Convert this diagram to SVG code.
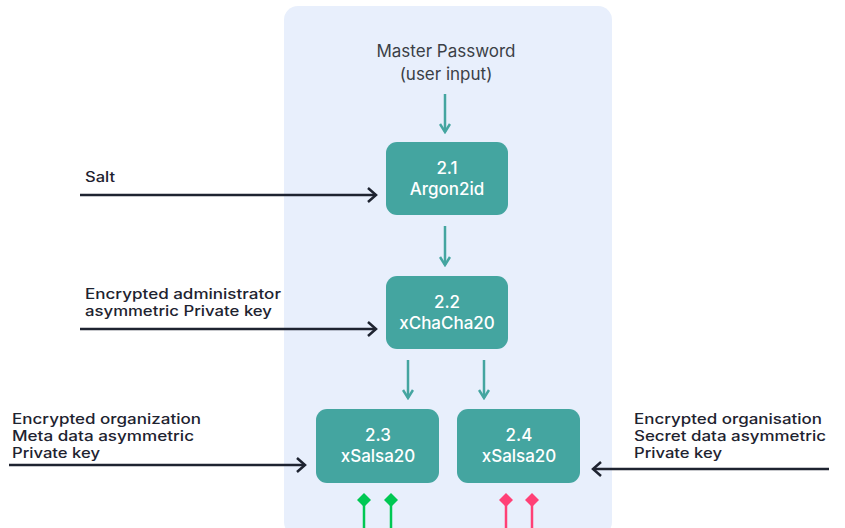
<svg xmlns="http://www.w3.org/2000/svg" width="845" height="528" viewBox="0 0 845 528">
<defs>
<style>
.lbl{font-family:Inter,"Liberation Sans",sans-serif;font-size:14px;fill:#1e2330;font-weight:500}
.ttl{font-family:Inter,"Liberation Sans",sans-serif;font-size:17px;fill:#3b3f47;text-anchor:middle}
.box{fill:#44a5a0}
.bt{font-family:Inter,"Liberation Sans",sans-serif;font-size:17px;fill:#ffffff;text-anchor:middle;font-weight:500}
.tl{stroke:#44a5a0;stroke-width:2.5;fill:none}
.bl{stroke:#1e2330;stroke-width:2.5;fill:none}
.gr{stroke:#00c853;stroke-width:2.5}
.rd{stroke:#ff4076;stroke-width:2.5}
</style>
<marker id="ht" viewBox="0 0 12 12" refX="10" refY="6" markerWidth="12" markerHeight="12" markerUnits="userSpaceOnUse" orient="auto">
<path d="M2,1 L10,6 L2,11" fill="none" stroke="#44a5a0" stroke-width="2.5"/>
</marker>
<marker id="hb" viewBox="0 0 16 16" refX="14" refY="8" markerWidth="16" markerHeight="16" markerUnits="userSpaceOnUse" orient="auto">
<path d="M6,1 L14,8 L6,15" fill="none" stroke="#1e2330" stroke-width="2.5"/>
</marker>
</defs>
<rect x="284" y="6" width="328" height="530" rx="14" fill="#e8effc"/>
<g id="title"><text class="ttl" x="446" y="57">Master Password</text><text class="ttl" x="446" y="80">(user input)</text></g>
<g id="n21"><rect class="box" x="386" y="142" width="122" height="73" rx="11"/><text class="bt" x="447" y="174">2.1</text><text class="bt" x="447" y="195">Argon2id</text></g>
<g id="n22"><rect class="box" x="386" y="276" width="122" height="73" rx="11"/><text class="bt" x="447" y="308">2.2</text><text class="bt" x="447" y="329">xChaCha20</text></g>
<g id="n23"><rect class="box" x="316" y="409" width="123" height="74" rx="11"/><text class="bt" x="378" y="441">2.3</text><text class="bt" x="378" y="462">xSalsa20</text></g>
<g id="n24"><rect class="box" x="457" y="409" width="123" height="74" rx="11"/><text class="bt" x="519" y="441">2.4</text><text class="bt" x="519" y="462">xSalsa20</text></g>
<g id="salt"><text class="lbl" x="85" y="182" textLength="30" lengthAdjust="spacingAndGlyphs">Salt</text></g>
<g id="admin"><text class="lbl" x="85" y="299" textLength="196" lengthAdjust="spacingAndGlyphs">Encrypted administrator</text><text class="lbl" x="85" y="316" textLength="187" lengthAdjust="spacingAndGlyphs">asymmetric Private key</text></g>
<g id="meta"><text class="lbl" x="12" y="424" textLength="189" lengthAdjust="spacingAndGlyphs">Encrypted organization</text><text class="lbl" x="12" y="441" textLength="182" lengthAdjust="spacingAndGlyphs">Meta data asymmetric</text><text class="lbl" x="12" y="458" textLength="88" lengthAdjust="spacingAndGlyphs">Private key</text></g>
<g id="secret"><text class="lbl" x="634" y="424" textLength="188" lengthAdjust="spacingAndGlyphs">Encrypted organisation</text><text class="lbl" x="634" y="441" textLength="192" lengthAdjust="spacingAndGlyphs">Secret data asymmetric</text><text class="lbl" x="634" y="458" textLength="88" lengthAdjust="spacingAndGlyphs">Private key</text></g>
<g id="connectors">
<line class="tl" x1="445" y1="94" x2="445" y2="132" marker-end="url(#ht)"/>
<line class="tl" x1="445" y1="226" x2="445" y2="265" marker-end="url(#ht)"/>
<line class="tl" x1="408" y1="360" x2="408" y2="398" marker-end="url(#ht)"/>
<line class="tl" x1="484" y1="360" x2="484" y2="398" marker-end="url(#ht)"/>
<line class="bl" x1="80" y1="195" x2="376" y2="195" marker-end="url(#hb)"/>
<line class="bl" x1="80" y1="329" x2="376" y2="329" marker-end="url(#hb)"/>
<line class="bl" x1="9" y1="465" x2="305" y2="465" marker-end="url(#hb)"/>
<line class="bl" x1="829" y1="469" x2="593" y2="469" marker-end="url(#hb)"/>
<line class="gr" x1="364" y1="502" x2="364" y2="528"/><path d="M364,493 L371,500 L364,507 L357,500Z" fill="#00c853"/>
<line class="gr" x1="391" y1="502" x2="391" y2="528"/><path d="M391,493 L398,500 L391,507 L384,500Z" fill="#00c853"/>
<line class="rd" x1="506" y1="502" x2="506" y2="528"/><path d="M506,493 L513,500 L506,507 L499,500Z" fill="#ff4076"/>
<line class="rd" x1="532" y1="502" x2="532" y2="528"/><path d="M532,493 L539,500 L532,507 L525,500Z" fill="#ff4076"/>
</g>
</svg>
